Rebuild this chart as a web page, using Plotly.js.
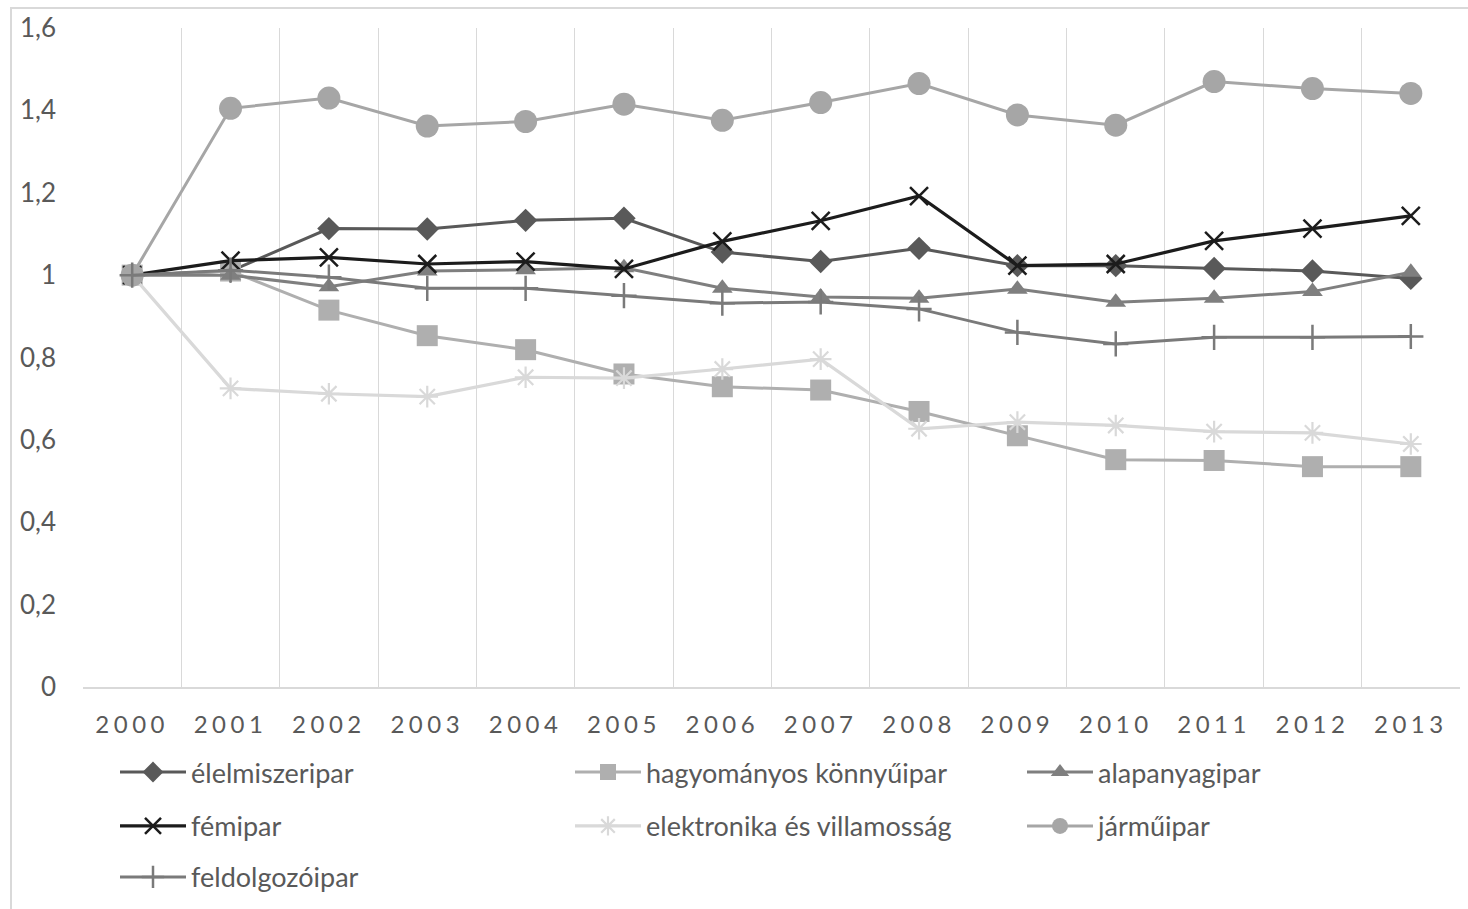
<!DOCTYPE html>
<html>
<head>
<meta charset="utf-8">
<script src="https://cdn.plot.ly/plotly-3.0.1.min.js"></script>
<style>
  html, body { margin: 0; padding: 0; background: #ffffff; overflow: hidden; }
  #wrap { position: relative; width: 1468px; height: 909px; }
  #frame { position: absolute; left: 10px; top: 7px; width: 1470px; height: 910px;
           border: 2px solid #d9d9d9; pointer-events: none; box-sizing: border-box; }
  #chart { position: absolute; left: 0; top: 0; width: 1468px; height: 909px; }
  .xtick text { letter-spacing: 4.5px; }
</style>
</head>
<body>
<div id="wrap">
  <div id="chart"></div>
  <div id="frame"></div>
</div>
<script>
const years = ['2000','2001','2002','2003','2004','2005','2006','2007','2008','2009','2010','2011','2012','2013'];

const elelmiszeripar = [1.00, 1.01, 1.113, 1.112, 1.133, 1.138, 1.056, 1.033, 1.065, 1.023, 1.023, 1.016, 1.010, 0.992];
const hagyomanyosKonnyuipar = [1.00, 1.01, 0.915, 0.853, 0.819, 0.760, 0.729, 0.721, 0.669, 0.610, 0.552, 0.550, 0.535, 0.535];
const alapanyagipar = [1.00, 1.00, 0.972, 1.010, 1.013, 1.018, 0.968, 0.947, 0.944, 0.966, 0.934, 0.944, 0.960, 1.007];
const femipar = [1.00, 1.035, 1.043, 1.027, 1.033, 1.015, 1.082, 1.132, 1.192, 1.023, 1.027, 1.083, 1.113, 1.144];
const elektronika = [1.00, 0.725, 0.712, 0.705, 0.752, 0.750, 0.772, 0.796, 0.627, 0.643, 0.635, 0.620, 0.617, 0.590];
const jarmuipar = [1.00, 1.405, 1.430, 1.362, 1.373, 1.415, 1.376, 1.419, 1.465, 1.389, 1.364, 1.470, 1.453, 1.441];
const feldolgozoipar = [1.00, 1.012, 0.995, 0.968, 0.968, 0.950, 0.932, 0.935, 0.918, 0.861, 0.833, 0.849, 0.849, 0.851];

const seriesNames = ['élelmiszeripar', 'hagyományos könnyűipar', 'alapanyagipar', 'fémipar',
                     'elektronika és villamosság', 'járműipar', 'feldolgozóipar'];

// plot-area geometry (px)
const PL = 83, PW = 1377, PT = 28, PH = 660.5;
const px2x = px => (px - PL) / PW;
const py2y = py => (PT + PH - py) / PH;

function tr(name, y, color, symbol, size, lw, legend, mlw) {
  return {
    type: 'scatter', mode: 'lines+markers', name: name, x: years, y: y,
    legend: legend,
    line: { color: color, width: lw },
    marker: { color: color, symbol: symbol, size: size, line: { color: color, width: mlw || 0 } },
    hoverinfo: 'x+y+name'
  };
}

const data = [
  tr(seriesNames[0], elelmiszeripar, '#595959', 'diamond', 18, 3, 'legend'),
  tr(seriesNames[1], hagyomanyosKonnyuipar, '#afafaf', 'square', 21, 3, 'legend2'),
  tr(seriesNames[2], alapanyagipar, '#7f7f7f', 'triangle-up', 18, 3, 'legend3'),
  tr(seriesNames[3], femipar, '#1c1c1c', 'x-thin-open', 18, 3.2, 'legend4', 2.5),
  tr(seriesNames[4], elektronika, '#d9d9d9', 'asterisk-open', 18, 3.2, 'legend5', 2.2),
  tr(seriesNames[5], jarmuipar, '#a6a6a6', 'circle', 23, 3, 'legend6'),
  tr(seriesNames[6], feldolgozoipar, '#7a7a7a', 'cross-thin-open', 18, 3, 'legend7', 2.5)
];

const fontFam = 'Lato, "Open Sans", sans-serif';
const colPx = [115, 570, 1022];
const rowPx = [773, 827, 878];
function legendCfg(col, row) {
  return {
    orientation: 'h', x: px2x(colPx[col]), xanchor: 'left', y: py2y(rowPx[row]), yanchor: 'middle',
    itemwidth: 66,
    font: { family: fontFam, size: 27, color: '#595959' },
    bgcolor: 'rgba(0,0,0,0)', borderwidth: 0
  };
}

const layout = {
  width: 1468, height: 909,
  margin: { l: PL, r: 1468 - PL - PW, t: PT, b: 909 - PT - PH, pad: 0 },
  paper_bgcolor: '#ffffff', plot_bgcolor: '#ffffff',
  separators: ', ',
  showlegend: true,
  font: { family: fontFam, color: '#595959' },
  xaxis: {
    type: 'category', range: [-0.5, 13.5], tickson: 'boundaries',
    showgrid: true, gridcolor: '#d9d9d9', gridwidth: 1,
    showline: true, linecolor: '#d9d9d9', linewidth: 1.5,
    ticks: '', ticklabelstandoff: 15,
    tickfont: { family: fontFam, size: 24, color: '#595959' },
    zeroline: false, fixedrange: true
  },
  yaxis: {
    range: [0, 1.6], dtick: 0.2, tick0: 0,
    showgrid: false, zeroline: false, showline: false,
    ticks: '', ticklabelstandoff: 26,
    tickfont: { family: fontFam, size: 26, color: '#595959' },
    fixedrange: true
  },
  legend: legendCfg(0, 0),
  legend2: legendCfg(1, 0),
  legend3: legendCfg(2, 0),
  legend4: legendCfg(0, 1),
  legend5: legendCfg(1, 1),
  legend6: legendCfg(2, 1),
  legend7: legendCfg(0, 2)
};

Plotly.newPlot('chart', data, layout, { displayModeBar: false });
</script>
</body>
</html>
